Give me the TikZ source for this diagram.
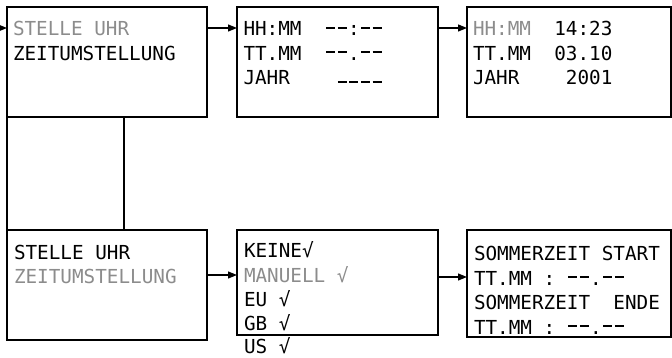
\documentclass[tikz,border=0pt]{standalone}
\usepackage{fontspec}
\newfontfamily\lcd{DejaVu Sans Mono}
\usetikzlibrary{arrows.meta}
\definecolor{lcdgray}{RGB}{140,140,140}
\newcommand\lcddash{\makebox[11.62pt]{\rule[7pt]{9pt}{2pt}}}
\newcommand\lcdunder{\makebox[11.62pt]{\rule[1.5pt]{9pt}{2pt}}}
\begin{document}
\begin{tikzpicture}[x=1pt,y=-1pt,
  screen/.style={draw,line width=2.5pt,rectangle,inner sep=0pt,outer sep=0pt,anchor=north west},
  txt/.style={anchor=base west,inner sep=0pt,outer sep=0pt,font=\lcd\fontsize{19.3}{24}\selectfont},
  dim/.style={txt,text=lcdgray},
  link/.style={line width=1.2pt},
  flow/.style={link,-{Triangle[length=9pt,width=7pt]}}]
\useasboundingbox (0,0) rectangle (672,358);
% screens
\node[screen,minimum width=200pt,minimum height=110pt] (s1) at (7,7) {};
\node[screen,minimum width=201pt,minimum height=110pt] (s2) at (237,7) {};
\node[screen,minimum width=204pt,minimum height=110pt] (s3) at (467,7) {};
\node[screen,minimum width=200pt,minimum height=110pt] (s4) at (7,230) {};
\node[screen,minimum width=201pt,minimum height=105pt] (s5) at (237,230) {};
\node[screen,minimum width=204pt,minimum height=107pt] (s6) at (467,230) {};
% texts screen 1
\node[dim] (t11) at (13,36) {STELLE~UHR};
\node[txt] (t12) at (13,60.5) {ZEITUMSTELLUNG};
% screen 2
\node[txt] (t21) at (243.5,36) {HH:MM~~\lcddash\lcddash:\lcddash\lcddash};
\node[txt] (t22) at (243.5,60.5) {TT.MM~~\lcddash\lcddash.\lcddash\lcddash};
\node[txt] (t23) at (243.5,85) {JAHR~~~~\lcdunder\lcdunder\lcdunder\lcdunder};
% screen 3
\node[txt] (t31) at (473,36) {{\color{lcdgray}HH:MM}~~14:23};
\node[txt] (t32) at (473,60.5) {TT.MM~~03.10};
\node[txt] (t33) at (473,85) {JAHR~~~~2001};
% screen 4
\node[txt] (t41) at (14,259) {STELLE~UHR};
\node[dim] (t42) at (14,283.5) {ZEITUMSTELLUNG};
% screen 5
\node[txt] (t51) at (244,257.5) {KEINE√};
\node[dim] (t52) at (244,282) {MANUELL~√};
\node[txt] (t53) at (244,306.5) {EU~√};
\node[txt] (t54) at (244,330.5) {GB~√};
\node[txt] (t55) at (244,353.5) {US~√};
% screen 6
\node[txt] (t61) at (474,260.5) {SOMMERZEIT~START};
\node[txt] (t62) at (474,285) {TT.MM~:~\lcddash\lcddash.\lcddash\lcddash};
\node[txt] (t63) at (474,309.5) {SOMMERZEIT~~ENDE};
\node[txt] (t64) at (474,334) {TT.MM~:~\lcddash\lcddash.\lcddash\lcddash};
% connectors
\coordinate (start) at (0,28);
\coordinate (mid) at (124,0);
\coordinate (rowB) at (0,275);
\coordinate (rowC) at (0,277);
\draw[flow] (start) -- (s1.west |- start);
\draw[flow] (s1.east |- start) -- (s2.west |- start);
\draw[flow] (s2.east |- start) -- (s3.west |- start);
\draw[link] (s1.south west) -- (s4.north west);
\draw[link] (mid |- s1.south) -- (mid |- s4.north);
\draw[flow] (s4.east |- rowB) -- (s5.west |- rowB);
\draw[flow] (s5.east |- rowC) -- (s6.west |- rowC);
\end{tikzpicture}
\end{document}
